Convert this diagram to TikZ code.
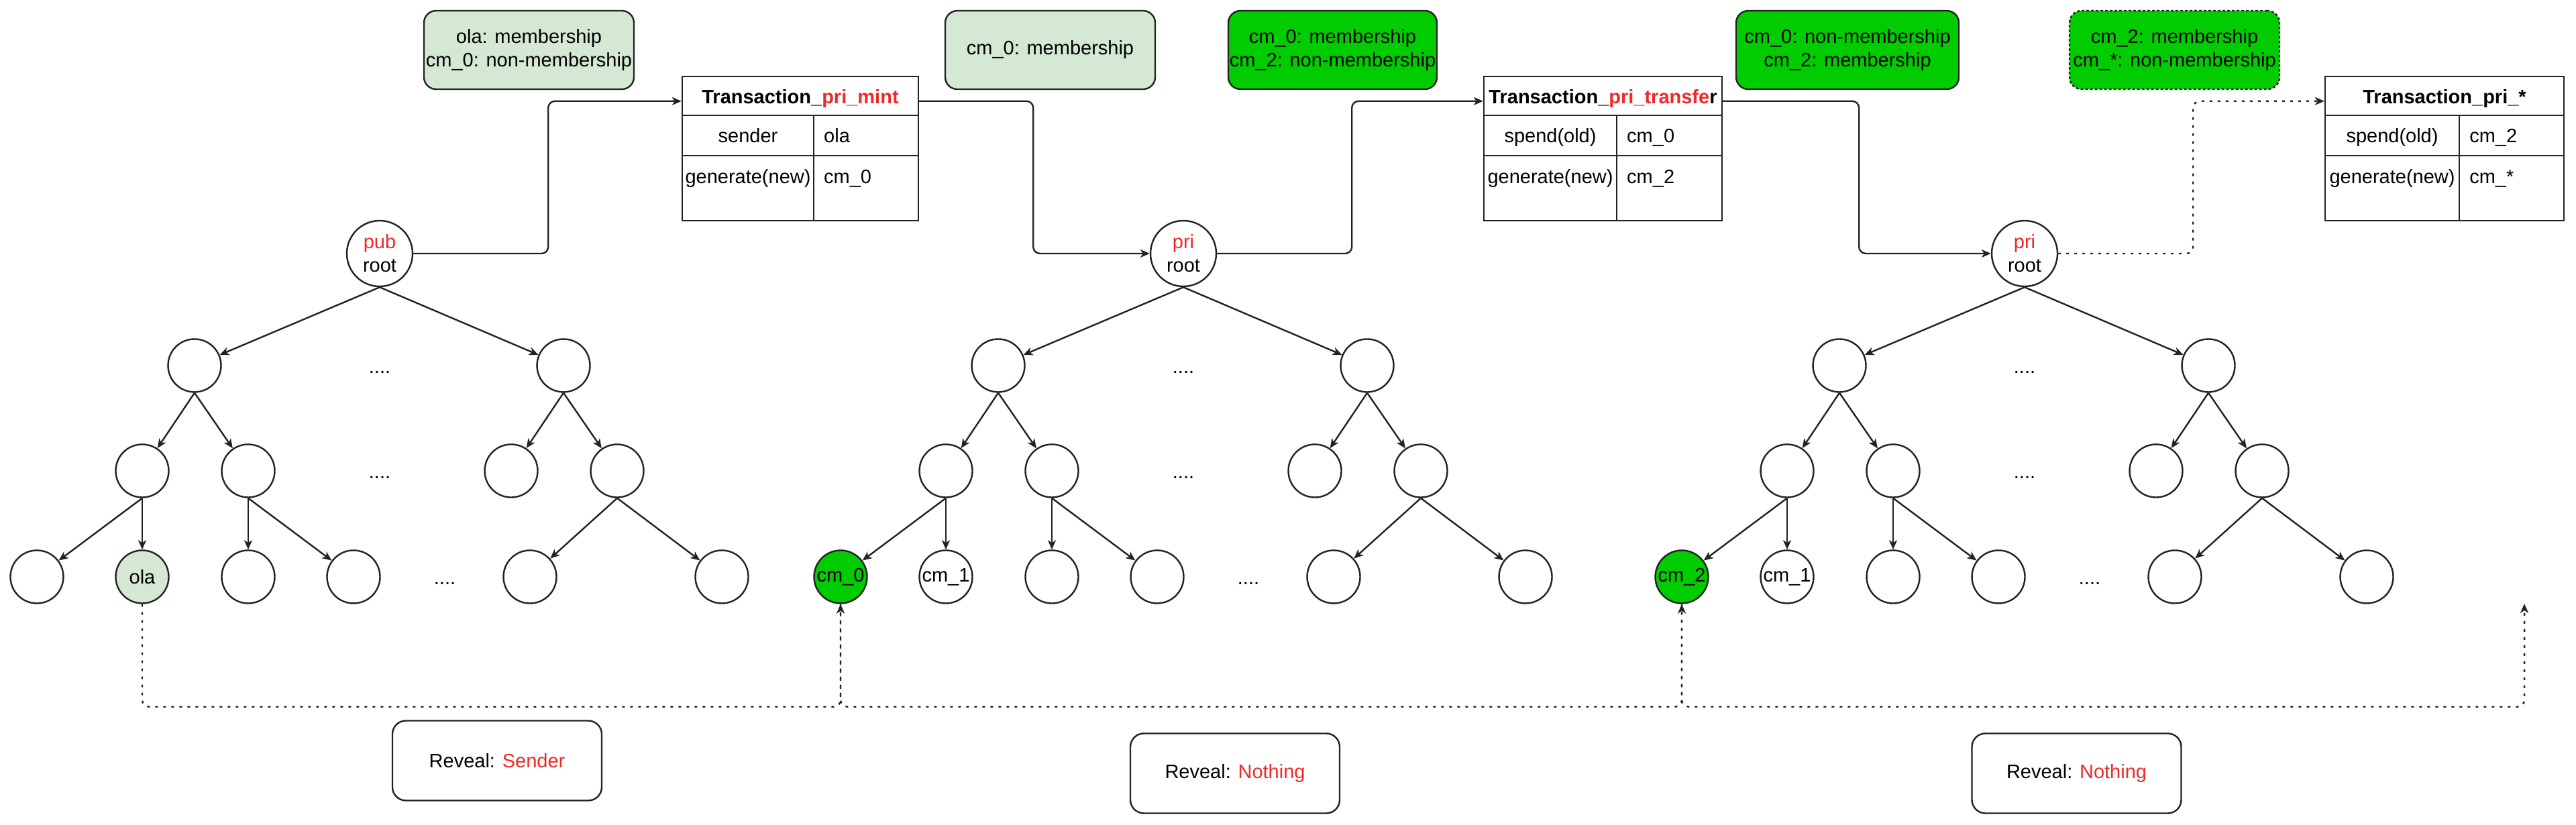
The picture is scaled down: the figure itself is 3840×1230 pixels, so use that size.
\documentclass[tikz,border=0pt]{standalone}
\usepackage{fontspec}
\setmainfont{Liberation Sans}
\usetikzlibrary{arrows.meta,calc}
\definecolor{lgreen}{HTML}{D5E8D4}
\definecolor{bgreen}{HTML}{00CC00}
\definecolor{tred}{HTML}{F02828}
\definecolor{ln}{HTML}{222222}

\newcommand\mktree[7]{%
\begin{scope}[xshift=#2pt]
 \node[rootn] (#1r) at (566,378) {\textcolor{tred}{#3}\\root};
 \node[tn] (#1a) at (290,545) {};
 \node[tn] (#1b) at (840,545) {};
 \node[tn] (#1c) at (212,702) {};
 \node[tn] (#1d) at (370,702) {};
 \node[tn] (#1e) at (762,702) {};
 \node[tn] (#1f) at (920,702) {};
 \node[tn,fill=#4] (#1g) at (55,860) {#5};
 \node[tn,fill=#6] (#1h) at (212,860) {#7};
 \node[tn] (#1i) at (370,860) {};
 \node[tn] (#1j) at (527,860) {};
 \node[tn] (#1k) at (790,860) {};
 \node[tn] (#1l) at (1076,860) {};
 \node[ellip] (#1x) at (566,555) {....};
 \node[ellip] (#1y) at (566,712) {....};
 \node[ellip] (#1z) at (663,870) {....};
\end{scope}
 \draw[tedge] (#1r.south) -- (#1a);
 \draw[tedge] (#1r.south) -- (#1b);
 \draw[tedge] (#1a.south) -- (#1c);
 \draw[tedge] (#1a.south) -- (#1d);
 \draw[tedge] (#1b.south) -- (#1e);
 \draw[tedge] (#1b.south) -- (#1f);
 \draw[tedge] (#1c.south) -- (#1g);
 \draw[tedge] (#1c.south) -- (#1h);
 \draw[tedge] (#1d.south) -- (#1i);
 \draw[tedge] (#1d.south) -- (#1j);
 \draw[tedge] (#1f.south) -- (#1k);
 \draw[tedge] (#1f.south) -- (#1l);
}

\newcommand\mktable[9]{%
 \node[tbl, minimum width={#4pt-#2pt}] (#1) at ({(#2+#4)/2},221.5) {};
 \draw[tline] (#2,172) -- (#4,172);
 \draw[tline] (#2,232) -- (#4,232);
 \draw[tline] (#3,172) -- (#3,329);
 \node[txt,anchor=base] (#1h) at ({(#2+#4)/2},155) {\bfseries #5};
 \node[txt,anchor=base] (#1a) at ({(#2+#3)/2},213) {#6};
 \node[txt,anchor=base west] (#1b) at ({#3+14},213) {#7};
 \node[txt,anchor=base] (#1c) at ({(#2+#3)/2},274) {#8};
 \node[txt,anchor=base west] (#1d) at ({#3+14},274) {#9};
}

\begin{document}
\begin{tikzpicture}[x=1pt,y=-1pt,
 font=\fontsize{29}{35}\selectfont,
 line width=2.4pt,
 tn/.style={circle,draw=ln,fill=white,minimum size=79pt,inner sep=0pt},
 rootn/.style={tn,minimum size=98pt,align=center},
 arrowend/.style={-{Stealth[length=14pt,width=12pt,inset=4pt]}},
 tedge/.style={draw=ln,arrowend},
 conn/.style={draw=ln,rounded corners=10pt,arrowend},
 dconn/.style={conn,dash pattern=on 4pt off 8pt},
 gnote/.style={rectangle,rounded corners=18pt,draw=ln,minimum height=117pt,inner sep=0pt,align=center},
 reveal/.style={rectangle,rounded corners=20pt,draw=ln,fill=white,minimum width=312pt,minimum height=119pt,inner sep=0pt},
 tbl/.style={rectangle,draw=ln,fill=white,minimum height=215pt,inner sep=0pt},
 tline/.style={draw=ln},
 txt/.style={inner sep=0pt},
 ellip/.style={inner sep=0pt},
]
\fill[white] (0,0) rectangle (3840,1230);
\useasboundingbox (0,0) rectangle (3840,1230);

% notes
\node[gnote,fill=lgreen,minimum width=313pt] (g1) at (788.5,74.5) {ola: membership\\cm\_0: non-membership};
\node[gnote,fill=lgreen,minimum width=313pt] (g2) at (1565.5,74.5) {cm\_0: membership};
\node[gnote,fill=bgreen,minimum width=311pt] (g3) at (1986.5,74.5) {cm\_0: membership\\cm\_2: non-membership};
\node[gnote,fill=bgreen,minimum width=332pt] (g4) at (2754,74.5) {cm\_0: non-membership\\cm\_2: membership};
\node[gnote,fill=bgreen,minimum width=313pt,dash pattern=on 4pt off 3pt] (g5) at (3241.5,74.5) {cm\_2: membership\\cm\_*: non-membership};

% trees
\mktree{a}{0}{pub}{white}{}{lgreen}{ola}
\mktree{b}{1198}{pri}{bgreen}{cm\_0}{white}{cm\_1}
\mktree{c}{2452}{pri}{bgreen}{cm\_2}{white}{cm\_1}

% tables
\mktable{ta}{1017}{1213}{1369}{Transaction\_\textcolor{tred}{pri\_mint}}{sender}{ola}{generate(new)}{cm\_0}
\mktable{tb}{2212}{2410}{2567}{Transaction\_\textcolor{tred}{pri\_transfe}r}{spend(old)}{cm\_0}{generate(new)}{cm\_2}
\mktable{tc}{3466}{3666}{3822}{Transaction\_pri\_*}{spend(old)}{cm\_2}{generate(new)}{cm\_*}

% top connectors
\draw[conn] (ar.east) -- ++(201,0) |- ($(ta.north west)+(0,38)$);
\draw[conn] ($(ta.north east)+(0,38)$) -- ++(170,0) |- (br.west);
\draw[conn] (br.east) -- ++(201,0) |- ($(tb.north west)+(0,38)$);
\draw[conn] ($(tb.north east)+(0,38)$) -- ++(203,0) |- (cr.west);
\draw[dconn] (cr.east) -- ++(201,0) |- ($(tc.north west)+(0,38)$);

% bottom connectors
\coordinate (endpt) at (3763,900);
\draw[dconn] (ah.south) -- ++(0,153) -| (bg.south);
\draw[dconn] (bg.south) -- ++(0,153) -| (cg.south);
\draw[dconn] (cg.south) -- ++(0,153) -| (endpt);

% reveal boxes
\node[reveal] (rv1) at (741,1134) {Reveal: \textcolor{tred}{Sender}};
\node[reveal] (rv2) at (1841,1153) {Reveal: \textcolor{tred}{Nothing}};
\node[reveal] (rv3) at (3095.5,1153) {Reveal: \textcolor{tred}{Nothing}};
\end{tikzpicture}
\end{document}
